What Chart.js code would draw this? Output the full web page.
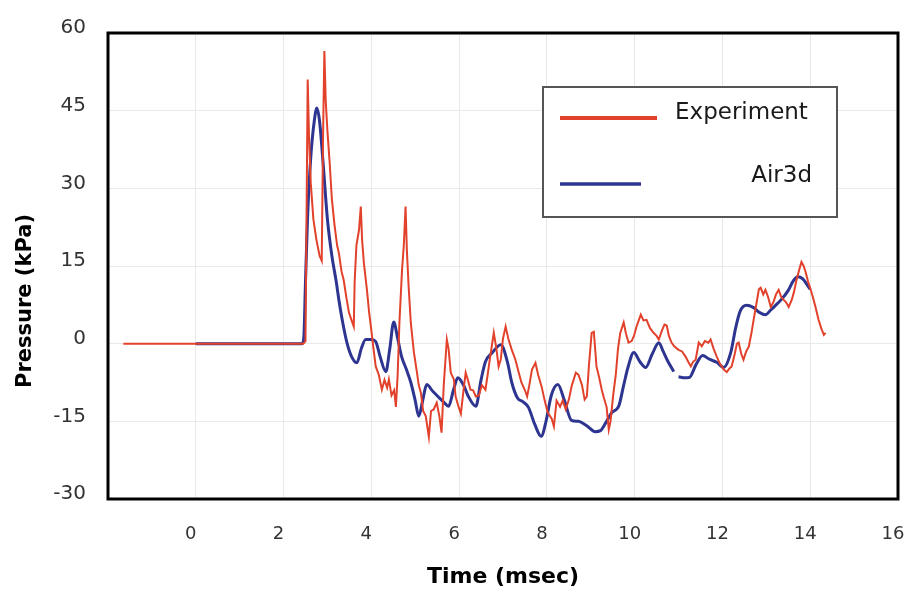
<!DOCTYPE html>
<html>
<head>
<meta charset="utf-8">
<script src="https://cdn.jsdelivr.net/npm/chart.js@4/dist/chart.umd.min.js"></script>
<style>
  body { margin: 0; background: #fff; }
</style>
</head>
<body>
<canvas id="pressureChart" width="909" height="590"></canvas>
<script>
// experiment trace (time in msec, pressure in kPa)
const expTime = [-1.65, 2.45, 2.5, 2.55, 2.58, 2.62, 2.68, 2.75, 2.82, 2.87, 2.9, 2.93, 2.96, 3.0, 3.05, 3.1, 3.16, 3.22, 3.26, 3.32,
  3.37, 3.43, 3.49, 3.55, 3.6, 3.62, 3.66, 3.72, 3.76, 3.79, 3.83, 3.9, 3.95, 3.99, 4.05, 4.1, 4.17, 4.24, 4.3, 4.36,
  4.4, 4.46, 4.52, 4.56, 4.6, 4.64, 4.7, 4.74, 4.78, 4.81, 4.85, 4.9, 4.97, 5.03, 5.08, 5.13, 5.18, 5.24, 5.31, 5.36,
  5.42, 5.49, 5.55, 5.6, 5.65, 5.72, 5.76, 5.81, 5.88, 5.92, 5.98, 6.04, 6.1, 6.15, 6.2, 6.26, 6.32, 6.38, 6.45, 6.52,
  6.6, 6.65, 6.7, 6.79, 6.85, 6.9, 6.95, 7.0, 7.06, 7.12, 7.2, 7.28, 7.36, 7.42, 7.5, 7.55, 7.6, 7.66, 7.74, 7.8,
  7.88, 7.95, 8.02, 8.11, 8.16, 8.22, 8.3, 8.36, 8.43, 8.5, 8.57, 8.66, 8.72, 8.8, 8.86, 8.91, 8.96, 9.02, 9.07, 9.13,
  9.19, 9.25, 9.3, 9.36, 9.41, 9.45, 9.51, 9.57, 9.62, 9.67, 9.75, 9.8, 9.86, 9.93, 9.98, 10.05, 10.14, 10.2, 10.27, 10.35,
  10.43, 10.5, 10.55, 10.62, 10.68, 10.73, 10.78, 10.84, 10.9, 11.0, 11.08, 11.16, 11.22, 11.28, 11.33, 11.39, 11.46, 11.53, 11.6, 11.68,
  11.73, 11.8, 11.87, 11.95, 12.03, 12.1, 12.16, 12.21, 12.28, 12.33, 12.37, 12.43, 12.48, 12.54, 12.6, 12.66, 12.71, 12.78, 12.83, 12.87,
  12.93, 12.98, 13.04, 13.1, 13.16, 13.22, 13.28, 13.34, 13.39, 13.45, 13.51, 13.58, 13.63, 13.69, 13.74, 13.8, 13.85, 13.9, 13.95, 14.01,
  14.06, 14.12, 14.19, 14.25, 14.31, 14.35];
const expPressure = [0, 0, 0.5, 51, 40, 31, 24, 20, 17, 16, 40, 56.5, 47, 41, 35, 28, 23, 19, 17.5, 14,
  12.3, 9, 6, 4.5, 3.3, 12, 19, 22, 26.5, 20, 15.6, 10.4, 6, 3.3, -1, -4.4, -6, -8.9, -7, -8.5,
  -6.9, -10, -9, -12.2, -6, 4.1, 14.3, 19, 26.5, 18, 11, 4, -1.7, -5, -8, -9.5, -13, -14, -18, -13,
  -12.7, -11.4, -14, -17.2, -8, 0.8, -1, -5.6, -6.9, -10.2, -12, -13.5, -9, -5.6, -7, -8.9, -9, -10.2, -10, -8,
  -8.9, -6, -3, 2.1, -1, -4.4, -3, 1, 3.3, 1, -1.2, -3, -5.6, -7.5, -9, -10.2, -8, -5, -3.7, -6,
  -8.3, -11, -13.3, -14.5, -16, -11, -12.2, -11, -12.7, -10.8, -8, -5.6, -6, -8, -10.8, -10.2, -4, 2.1, 2.3, -4.4,
  -6.5, -8.9, -10.5, -12.2, -16.6, -15, -10, -6, -1, 2, 4.1, 2, 0.2, 0.5, 1.4, 3.5, 5.6, 4.5, 4.6, 3,
  2.1, 1.5, 0.8, 2.5, 3.7, 3.5, 1.5, 0.2, -0.5, -1.2, -1.5, -2.5, -3.5, -4.4, -3.5, -3.1, 0.2, -0.5, 0.5, 0.2,
  0.8, -1, -2.5, -4, -5, -5.5, -4.8, -4.4, -2, 0, 0.2, -2, -3.1, -1.5, -0.6, 2, 4.6, 8, 10.5, 10.8,
  9.5, 10.4, 9, 7.1, 8, 9.5, 10.4, 9, 8.5, 8, 7.1, 8.5, 10, 12.4, 14, 15.8, 15, 13.7, 12, 10.4,
  9, 7.1, 4.6, 3, 1.7, 2.1];

// Air3d simulation
const airTime = [0, 2.42, 2.46, 2.5, 2.55, 2.62, 2.7, 2.76, 2.82, 2.9, 3.0, 3.1, 3.2, 3.26, 3.35, 3.45, 3.55, 3.67, 3.77, 3.87,
  4.0, 4.1, 4.2, 4.33, 4.42, 4.51, 4.6, 4.69, 4.8, 4.9, 5.0, 5.08, 5.17, 5.26, 5.4, 5.54, 5.65, 5.76, 5.87, 5.97,
  6.1, 6.2, 6.38, 6.5, 6.6, 6.75, 6.95, 7.1, 7.2, 7.33, 7.45, 7.58, 7.72, 7.87, 7.98, 8.1, 8.25, 8.4, 8.56, 8.72,
  8.9, 9.1, 9.22, 9.34, 9.48, 9.64, 9.75, 9.85, 9.98, 10.12, 10.25, 10.4, 10.55, 10.65, 10.75, 10.89, 10.95, 11.0, 11.15, 11.25,
  11.4, 11.55, 11.7, 11.87, 12.03, 12.19, 12.3, 12.4, 12.55, 12.7, 12.85, 12.98, 13.1, 13.2, 13.35, 13.5, 13.62, 13.72, 13.83, 13.92,
  14.0];
const airPressure = [0, 0, 1, 12, 25, 36, 43, 45.5, 43, 35, 24, 17, 12, 8.5, 4, 0, -2.5, -3.7, -1, 0.8,
  0.8, 0.4, -2.5, -5.4, -1, 4.2, 1, -2.5, -5, -7.5, -11, -14, -11, -7.9, -9.2, -10.4, -11.3, -12.1, -9, -6.6,
  -8, -10, -12.1, -7, -3.5, -1.8, -0.2, -3.5, -7.5, -10.5, -11.2, -12.3, -15.5, -17.9, -15, -10, -7.9, -11, -14.8, -15,
  -15.8, -17, -16.8, -15.3, -13.3, -12, -8, -4.5, -1.7, -3.5, -4.6, -2, 0.2, -1.5, -3.3, -5.4, null, -6.4, -6.6, -6.5,
  -4, -2.3, -3, -3.6, -4.6, -1.7, 3, 6.2, 7.4, 7, 6, 5.6, 6.5, 7.3, 8.6, 10.3, 12.2, 12.9, 12.5, 11.5,
  10.5];

const seriesNames = ["Experiment", "Air3d"];
const yTicks = [-30, -15, 0, 15, 30, 45, 60];

const RED = "#e2412b";
const BLUE = "#2d3590";

function toPoints(xs, ys) {
  return xs.map((x, i) => ({ x: x, y: ys[i] }));
}

// frame round the plot, boxed legend and rotated y title
const extras = {
  id: "extras",
  afterDraw(chart) {
    const ctx = chart.ctx;
    const a = chart.chartArea;
    ctx.save();
    ctx.strokeStyle = "#000";
    ctx.lineWidth = 3;
    ctx.strokeRect(a.left, a.top, a.right - a.left, a.bottom - a.top);

    // legend box
    ctx.fillStyle = "#fff";
    ctx.fillRect(543, 87, 294, 130);
    ctx.strokeStyle = "#555";
    ctx.lineWidth = 2;
    ctx.strokeRect(543, 87, 294, 130);

    ctx.lineCap = "butt";
    ctx.strokeStyle = RED;
    ctx.lineWidth = 4;
    ctx.beginPath(); ctx.moveTo(560, 118); ctx.lineTo(657, 118); ctx.stroke();
    ctx.strokeStyle = BLUE;
    ctx.lineWidth = 3.5;
    ctx.beginPath(); ctx.moveTo(560, 184); ctx.lineTo(641, 184); ctx.stroke();

    ctx.fillStyle = "#1a1a1a";
    ctx.font = "23px 'DejaVu Sans'";
    ctx.textBaseline = "middle";
    ctx.textAlign = "left";
    ctx.fillText(seriesNames[0], 675, 113);
    ctx.textAlign = "right";
    ctx.fillText(seriesNames[1], 812, 176);

    // y axis title
    ctx.translate(26, 301);
    ctx.rotate(-Math.PI / 2);
    ctx.textAlign = "center";
    ctx.fillStyle = "#000";
    ctx.font = "bold 21px 'DejaVu Sans'";
    ctx.fillText("Pressure (kPa)", 0, 0);
    ctx.restore();
  }
};

new Chart(document.getElementById("pressureChart"), {
  type: "line",
  data: {
    datasets: [{
      label: seriesNames[0],
      data: toPoints(expTime, expPressure),
      borderColor: RED,
      borderWidth: 2,
      pointRadius: 0,
      tension: 0
    }, {
      label: seriesNames[1],
      data: toPoints(airTime, airPressure),
      borderColor: BLUE,
      borderWidth: 3,
      pointRadius: 0,
      cubicInterpolationMode: "monotone",
      spanGaps: false
    }]
  },
  options: {
    responsive: false,
    animation: false,
    layout: { padding: { left: 0, right: 11, top: 33, bottom: 0 } },
    plugins: {
      legend: { display: false },
      tooltip: { enabled: false }
    },
    scales: {
      x: {
        type: "linear",
        min: -2,
        max: 16,
        afterFit: s => { s.height = 91; s.paddingLeft = 0; s.paddingRight = 0; },
        grid: { color: "#e9e9e9", drawTicks: false },
        border: { display: false },
        ticks: {
          stepSize: 2,
          padding: 25,
          labelOffset: -5,
          color: "#333",
          font: { family: "'DejaVu Sans'", size: 18 },
          callback: v => v === -2 ? "" : v
        },
        title: {
          display: true,
          text: "Time (msec)",
          color: "#000",
          font: { family: "'DejaVu Sans'", size: 22, weight: "bold" },
          padding: { top: 0, bottom: 0 }
        }
      },
      y: {
        min: yTicks[0],
        max: yTicks[yTicks.length - 1],
        afterFit: s => { s.width = 108; s.paddingTop = 0; s.paddingBottom = 0; },
        afterBuildTicks: s => { s.ticks = yTicks.map(v => ({ value: v })); },
        grid: { color: "#e9e9e9", drawTicks: false },
        border: { display: false },
        ticks: {
          padding: 22,
          labelOffset: -5,
          color: "#333",
          font: { family: "'DejaVu Sans'", size: 20 }
        }
      }
    }
  },
  plugins: [extras]
});
</script>
</body>
</html>
